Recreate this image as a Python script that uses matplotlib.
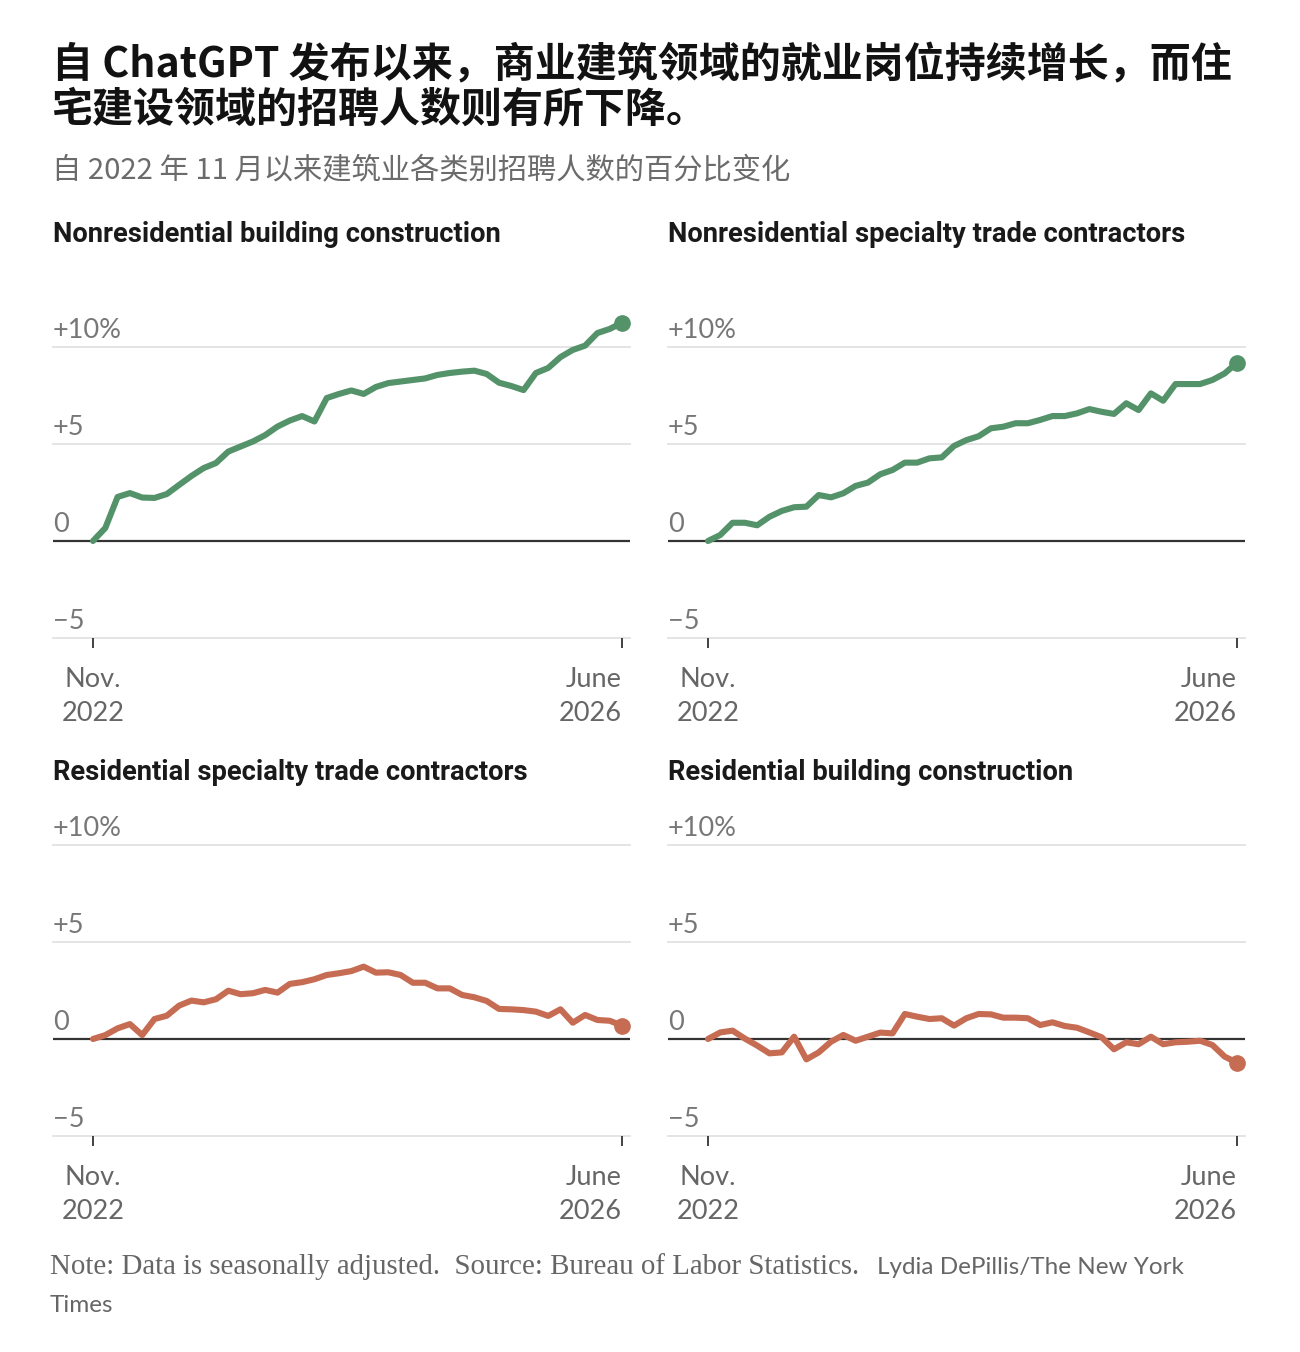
import numpy as np
import matplotlib.pyplot as plt

plt.rcParams['font.family'] = ['Noto Sans CJK SC', 'DejaVu Sans']

W, H = 1300, 1352

# monthly points, Nov. 2022 .. June 2026 (percent change since Nov. 2022)
months = np.arange(44)
x_tick_pos = [0, 43]
x_tick_labels = ["Nov.\n2022", "June\n2026"]
y_ticks = [-5, 0, 5, 10]
y_tick_labels = ["\u22125", "0", "+5", "+10%"]

nonres_building = [0, 0.67, 2.27, 2.47, 2.24, 2.22, 2.42, 2.89, 3.35, 3.76,
                   4.02, 4.61, 4.87, 5.13, 5.46, 5.9, 6.21, 6.44, 6.16, 7.37,
                   7.58, 7.76, 7.58, 7.94, 8.14, 8.22, 8.3, 8.38, 8.56, 8.66,
                   8.73, 8.78, 8.61, 8.16, 7.99, 7.78, 8.66, 8.92, 9.48, 9.85,
                   10.07, 10.72, 10.93, 11.25]
nonres_specialty = [0, 0.31, 0.94, 0.94, 0.81, 1.25, 1.55, 1.74, 1.77, 2.37,
                    2.25, 2.46, 2.84, 3.01, 3.44, 3.66, 4.04, 4.04, 4.26, 4.31,
                    4.9, 5.2, 5.4, 5.81, 5.89, 6.07, 6.07, 6.24, 6.44, 6.44,
                    6.58, 6.8, 6.66, 6.55, 7.1, 6.75, 7.61, 7.23, 8.09, 8.09,
                    8.09, 8.3, 8.64, 9.19]
res_specialty = [0, 0.2, 0.55, 0.77, 0.2, 1.03, 1.2, 1.72, 1.98, 1.89,
                 2.05, 2.49, 2.31, 2.36, 2.53, 2.39, 2.84, 2.93, 3.08, 3.3,
                 3.39, 3.5, 3.73, 3.42, 3.44, 3.3, 2.9, 2.9, 2.61, 2.61,
                 2.27, 2.15, 1.96, 1.55, 1.53, 1.49, 1.41, 1.19, 1.53, 0.84,
                 1.24, 0.98, 0.94, 0.69]
res_building = [0, 0.34, 0.43, 0.02, -0.34, -0.74, -0.69, 0.12, -1.05, -0.69,
                -0.14, 0.21, -0.09, 0.12, 0.33, 0.29, 1.29, 1.15, 1.03, 1.07,
                0.69, 1.07, 1.29, 1.27, 1.1, 1.1, 1.07, 0.72, 0.86, 0.67,
                0.58, 0.34, 0.09, -0.53, -0.17, -0.27, 0.12, -0.27, -0.17, -0.14,
                -0.09, -0.31, -0.91, -1.22]

panel_titles = ["Nonresidential building construction",
                "Nonresidential specialty trade contractors",
                "Residential specialty trade contractors",
                "Residential building construction"]
panel_series = [nonres_building, nonres_specialty, res_specialty, res_building]

GREEN = "#54926a"
RED = "#c66c53"
panel_colors = [GREEN, GREEN, RED, RED]

# panel placement in pixels: (left edge of grid, y of zero line)
panel_pos = [(53, 541), (668, 541), (53, 1039), (668, 1039)]
title_y = [235, 235, 773, 773]

PX_PER_UNIT = 19.4
AX_W = 577
YMIN, YMAX = -5, 12.2
XMIN, XMAX = -3.25, 43.65

fig = plt.figure(figsize=(W / 100, H / 100), dpi=100)
fig.patch.set_facecolor("white")


def fx(px):
    return px / W


def fy(py):
    return 1 - py / H


for i in range(4):
    left, zero_y = panel_pos[i]
    bottom_px = zero_y - YMIN * PX_PER_UNIT
    top_px = zero_y - YMAX * PX_PER_UNIT
    ax = fig.add_axes([fx(left), fy(bottom_px), AX_W / W, (bottom_px - top_px) / H])
    ax.set_xlim(XMIN, XMAX)
    ax.set_ylim(YMIN, YMAX)
    for s in ax.spines.values():
        s.set_visible(False)

    for v, lbl in zip(y_ticks, y_tick_labels):
        if v == 0:
            ax.axhline(0, color="#333333", lw=1.6, zorder=2)
        else:
            ax.axhline(v, color="#e2e2e2", lw=1.3, zorder=1, clip_on=False)
        ax.annotate(lbl, xy=(0, v), xycoords=("axes fraction", "data"),
                    xytext=(0, 6.5), textcoords="offset points",
                    ha="left", va="baseline", fontsize=19.5, color="#777777",
                    family=["Lato", "DejaVu Sans"])

    vals = panel_series[i]
    ax.plot(months, vals, color=panel_colors[i], lw=4.4, zorder=3,
            solid_capstyle="round", solid_joinstyle="round")
    ax.plot(months[-1], vals[-1], "o", color=panel_colors[i], ms=11, zorder=4)

    ax.set_yticks([])
    ax.set_xticks(x_tick_pos)
    ax.set_xticklabels(x_tick_labels, fontsize=19.5, color="#666666",
                       family=["Lato", "DejaVu Sans"], linespacing=1.45)
    ax.tick_params(axis="x", length=7, width=1.3, color="#333333", pad=14)
    ax.get_xticklabels()[1].set_ha("right")

    fig.text(fx(left), fy(title_y[i]), panel_titles[i], ha="left", va="center",
             fontsize=19.7, fontweight="bold", color="#1a1a1a",
             family=["Roboto", "DejaVu Sans"])

# headline and subtitle
fig.text(fx(52), fy(65), "自 ChatGPT 发布以来，商业建筑领域的就业岗位持续增长，而住",
         ha="left", va="center", fontsize=29.5, fontweight="bold", color="#121212")
fig.text(fx(52), fy(110), "宅建设领域的招聘人数则有所下降。",
         ha="left", va="center", fontsize=29.5, fontweight="bold", color="#121212")
fig.text(fx(52), fy(170), "自 2022 年 11 月以来建筑业各类别招聘人数的百分比变化",
         ha="left", va="center", fontsize=21.1, color="#6b6b6b")

# footer
fig.text(fx(50), fy(1267), "Note: Data is seasonally adjusted.  Source: Bureau of Labor Statistics.",
         ha="left", va="center", fontsize=20.8, color="#666666",
         family=["Liberation Serif", "DejaVu Serif"])
fig.text(fx(877), fy(1267), "Lydia DePillis/The New York",
         ha="left", va="center", fontsize=17.5, color="#666666",
         family=["Lato", "DejaVu Sans"])
fig.text(fx(50), fy(1305), "Times",
         ha="left", va="center", fontsize=17.5, color="#666666",
         family=["Lato", "DejaVu Sans"])

fig.savefig("out.png", dpi=100, facecolor="white")
